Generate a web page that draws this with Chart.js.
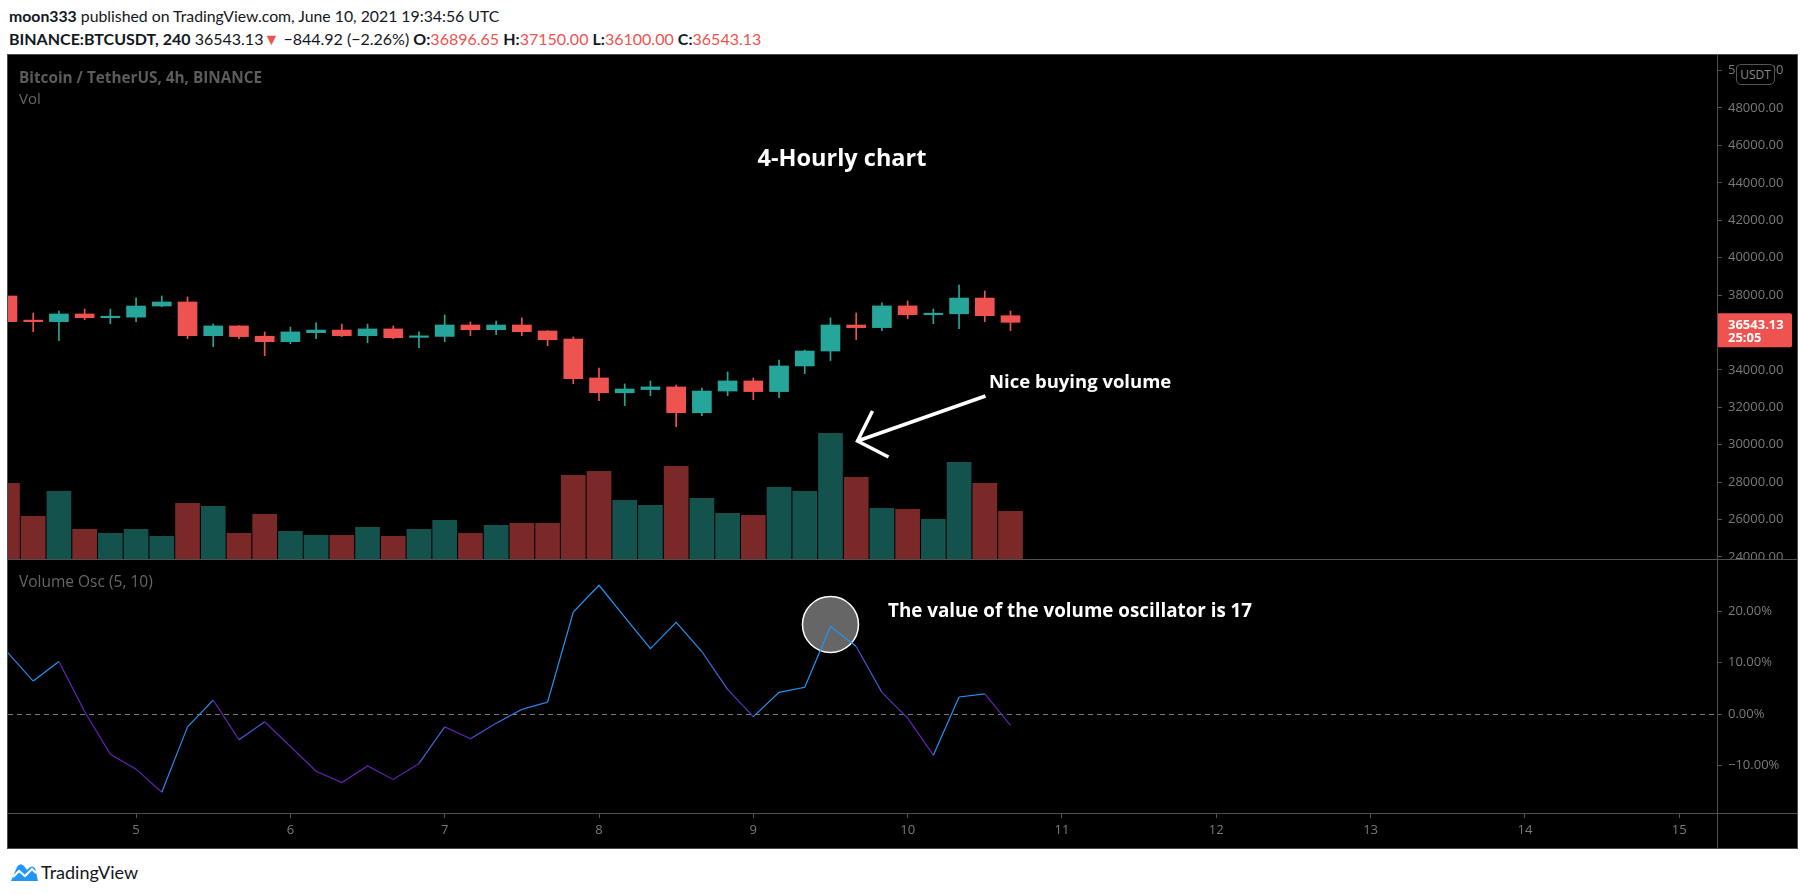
<!DOCTYPE html>
<html>
<head>
<meta charset="utf-8">
<script src="https://cdn.jsdelivr.net/npm/chart.js@4.4.1/dist/chart.umd.min.js"></script>
<style>
  body { margin: 0; background: #fff; width: 1805px; height: 895px; overflow: hidden; font-family: Lato, "Open Sans", sans-serif; }
  .hdr { position: absolute; left: 9px; font-size: 16px; line-height: 22px; color: #131722; white-space: nowrap; }
  .red { color: #ef5350; }
  #box { position: absolute; left: 7px; top: 54px; width: 1791px; height: 795px; box-sizing: border-box; border: 1px solid #4f4f4f; background: #000; }
  #box canvas { position: absolute; left: 0; }
  .sep { position: absolute; background: #4f4f4f; }
  .lbl { position: absolute; white-space: nowrap; line-height: 20px; font-family: "Open Sans", sans-serif; }
  .note { position: absolute; white-space: nowrap; color: #fff; font-weight: bold; line-height: 26px; font-family: "Open Sans", sans-serif; }
  #usdt { position: absolute; left: 1728px; top: 9px; width: 39px; height: 21px; box-sizing: border-box; border: 1px solid #555; border-radius: 5px; background: #000; color: #8a8a8a; font: 12px "Open Sans", sans-serif; line-height: 19px; text-align: center; }
  #logo { position: absolute; left: 9px; top: 860px; height: 24px; display: flex; align-items: center; font-size: 18px; color: #131722; }
</style>
</head>
<body>
<div class="hdr" style="top:5px;font-size:15.8px"><b>moon333</b> published on TradingView.com, June 10, 2021 19:34:56 UTC</div>
<div class="hdr" style="top:28px"><b>BINANCE:BTCUSDT, 240</b> 36543.13<span class="red">&#9660;</span> &minus;844.92 (&minus;2.26%) <b>O:</b><span class="red">36896.65</span> <b>H:</b><span class="red">37150.00</span> <b>L:</b><span class="red">36100.00</span> <b>C:</b><span class="red">36543.13</span></div>

<div id="box">
  <canvas id="priceChart" width="1789" height="504" style="top:0"></canvas>
  <canvas id="oscChart" width="1789" height="289" style="top:504px"></canvas>
  <div class="sep" style="left:0;top:504px;width:1789px;height:1px"></div>
  <div class="sep" style="left:0;top:758px;width:1789px;height:1px"></div>
  <div class="sep" style="left:1709px;top:0;width:1px;height:793px"></div>
  <div class="lbl" style="left:11px;top:12px;color:#5c5c5c;font-weight:bold;font-size:15.3px">Bitcoin / TetherUS, 4h, BINANCE</div>
  <div class="lbl" style="left:11px;top:33px;color:#666;font-size:15px">Vol</div>
  <div class="lbl" style="left:11px;top:516px;color:#666;font-size:15.5px">Volume Osc (5, 10)</div>
  <div class="note" style="left:834px;top:89px;font-size:23.5px;transform:translateX(-50%)">4-Hourly chart</div>
  <div class="note" style="left:981px;top:313px;font-size:18.5px">Nice buying volume</div>
  <div class="note" style="left:880px;top:542px;font-size:18.8px">The value of the volume oscillator is 17</div>
  <div id="usdt">USDT</div>
</div>

<div id="logo">
  <svg width="30" height="22" viewBox="0 0 30 22">
    <path d="M2 20 L8 6 Q11 1 15 5 L18 9 Q22 3 26 7 L29 20 Z" fill="#2196f3"/>
    <polyline points="4,16 10,10 16,15 23,8 27,12" fill="none" stroke="#fff" stroke-width="2.2"/>
  </svg>
  <span style="margin-left:2px">TradingView</span>
</div>

<script>
// 4h bars, BINANCE:BTCUSDT, June 2021
const barTimes = [
  '06-04 04:00', '06-04 08:00', '06-04 12:00', '06-04 16:00', '06-04 20:00',
  '06-05 00:00', '06-05 04:00', '06-05 08:00', '06-05 12:00', '06-05 16:00', '06-05 20:00',
  '06-06 00:00', '06-06 04:00', '06-06 08:00', '06-06 12:00', '06-06 16:00', '06-06 20:00',
  '06-07 00:00', '06-07 04:00', '06-07 08:00', '06-07 12:00', '06-07 16:00', '06-07 20:00',
  '06-08 00:00', '06-08 04:00', '06-08 08:00', '06-08 12:00', '06-08 16:00', '06-08 20:00',
  '06-09 00:00', '06-09 04:00', '06-09 08:00', '06-09 12:00', '06-09 16:00', '06-09 20:00',
  '06-10 00:00', '06-10 04:00', '06-10 08:00', '06-10 12:00', '06-10 16:00'
];

const openP = [37950, 36620, 36580, 36990, 36790,
  36820, 37415, 37630, 35830, 36350, 35800,
  35510, 35990, 36130, 35830, 36190, 35740,
  35790, 36400, 36150, 36400, 36080, 35650,
  33570, 32780, 32950, 33090, 31710, 32870,
  33410, 32840, 34210, 35010, 36400, 36260,
  37420, 36950, 37000, 37840, 36896.65];
const highP = [37960, 37040, 37150, 37255, 37250,
  37850, 37950, 37900, 36450, 36370, 36030,
  36290, 36510, 36450, 36450, 36350, 36030,
  36940, 36560, 36615, 36780, 36100, 35760,
  34100, 33250, 33410, 33190, 33030, 33890,
  33570, 34530, 35060, 36780, 37040, 37580,
  37680, 37260, 38540, 38220, 37150];
const lowP = [36560, 36040, 35560, 36680, 36470,
  36580, 37380, 35670, 35240, 35670, 34760,
  35400, 35670, 35780, 35450, 35670, 35190,
  35510, 35830, 35880, 35830, 35290, 33260,
  32350, 32090, 32620, 30960, 31550, 32620,
  32410, 32510, 33800, 34500, 35620, 36100,
  36740, 36470, 36200, 36580, 36100];
const closeP = [36580, 36580, 36990, 36790, 36820,
  37415, 37630, 35830, 36350, 35780, 35510,
  36030, 36130, 35830, 36190, 35720, 35790,
  36400, 36150, 36400, 36040, 35610, 33530,
  32780, 32980, 33090, 31710, 32870, 33410,
  32840, 34210, 35010, 36400, 36260, 37420,
  36950, 37000, 37840, 36900, 36543.13];
const volume = [15200, 8600, 13600, 6000, 5200,
  6000, 4600, 11200, 10600, 5200, 9000,
  5600, 4800, 4800, 6400, 4600, 6000,
  7800, 5200, 6800, 7200, 7200, 16800,
  17600, 11800, 10800, 18600, 12200, 9200,
  8800, 14400, 13600, 25200, 16400, 10200,
  10000, 8000, 19400, 15200, 9600];
// Volume Osc (5, 10), percent
const volOsc = [12.0, 6.4, 10.2, 0.5, -7.8,
  -10.7, -15.2, -2.5, 2.7, -5.0, -1.5,
  -6.3, -11.1, -13.3, -10.1, -12.7, -9.6,
  -2.5, -4.8, -1.8, 0.9, 2.3, 19.8,
  25.0, 18.8, 12.7, 17.8, 12.1, 4.8,
  -0.5, 4.2, 5.2, 17.0, 13.1, 4.2,
  -0.8, -8.0, 3.3, 3.9, -2.2];

const priceTicks = [24000, 26000, 28000, 30000, 32000, 34000, 36000, 38000, 40000, 42000, 44000, 46000, 48000, 50000];
const oscTicks = [-10, 0, 10, 20];
const dayLabels = ['5', '6', '7', '8', '9', '10', '11', '12', '13', '14', '15'];

const UP = '#26a69a', DOWN = '#ef5350';
const UP_VOL = '#14524d', DOWN_VOL = '#7a2828';

// bar index: one unit = 4 hours, 0 = June 5 00:00
const xs = barTimes.map(t => (parseInt(t.slice(3, 5)) - 5) * 6 + parseInt(t.slice(6, 8)) / 4);
const dayTickVals = dayLabels.map(d => (parseInt(d) - 5) * 6);
const isUp = closeP.map((c, i) => c >= openP[i]);
const candleColors = isUp.map(u => u ? UP : DOWN);
const volColors = isUp.map(u => u ? UP_VOL : DOWN_VOL);

const X_MIN = -4.98, X_MAX = 61.47;
const AXIS_FONT = { family: 'Open Sans', size: 13 };
const AXIS_COLOR = '#7a7a7a';

Chart.defaults.font.family = 'Open Sans';

// keep the pane edges where they are, labels may overhang
function fixSide(s) {
  s.width = 80;
  s.paddingTop = 0;
  s.paddingBottom = 0;
}
function fixBottom(s) {
  s.height = 35;
  s.paddingLeft = 0;
  s.paddingRight = 0;
}

const lastPricePlugin = {
  id: 'lastPrice',
  afterDraw(chart) {
    const { ctx, chartArea, scales } = chart;
    const y = scales.y.getPixelForValue(closeP[closeP.length - 1]);
    ctx.save();
    ctx.fillStyle = DOWN;
    ctx.beginPath();
    ctx.roundRect(chartArea.right, y - 9, 75, 34, 2);
    ctx.fill();
    ctx.fillStyle = '#fff';
    ctx.font = 'bold 13px "Open Sans"';
    ctx.textBaseline = 'middle';
    ctx.fillText(closeP[closeP.length - 1].toFixed(2), chartArea.right + 11, y + 3);
    ctx.fillText('25:05', chartArea.right + 11, y + 16);
    ctx.restore();
  }
};

const arrowPlugin = {
  id: 'arrow',
  afterDatasetsDraw(chart) {
    const { ctx, scales } = chart;
    const k = 32; // the bar the note points at
    const tx = scales.x.getPixelForValue(xs[k]) + 27;
    const ty = scales.yVol.getPixelForValue(volume[k]) + 8;
    ctx.save();
    ctx.strokeStyle = '#fff';
    ctx.lineWidth = 3.5;
    ctx.beginPath();
    ctx.moveTo(tx + 128, ty - 45);
    ctx.lineTo(tx, ty);
    ctx.moveTo(tx + 15, ty - 30);
    ctx.lineTo(tx, ty);
    ctx.lineTo(tx + 31, ty + 16);
    ctx.stroke();
    ctx.restore();
  }
};

new Chart(document.getElementById('priceChart'), {
  type: 'bar',
  data: {
    datasets: [
      {
        label: 'Volume',
        data: xs.map((x, i) => ({ x, y: volume[i] })),
        yAxisID: 'yVol',
        backgroundColor: volColors,
        categoryPercentage: 1,
        barPercentage: 0.96,
        grouped: false,
        order: 3
      },
      {
        label: 'Wick',
        data: xs.map((x, i) => ({ x, y: [lowP[i], highP[i]] })),
        yAxisID: 'y',
        backgroundColor: candleColors,
        barThickness: 1,
        grouped: false,
        order: 2
      },
      {
        label: 'Body',
        data: xs.map((x, i) => ({ x, y: [openP[i], closeP[i]] })),
        yAxisID: 'y',
        backgroundColor: candleColors,
        barThickness: 19,
        minBarLength: 1.5,
        grouped: false,
        order: 1
      }
    ]
  },
  options: {
    responsive: false,
    animation: false,
    layout: { padding: 0 },
    plugins: { legend: { display: false }, tooltip: { enabled: false } },
    scales: {
      x: { type: 'linear', min: X_MIN, max: X_MAX, offset: false, display: false },
      y: {
        position: 'right',
        min: 23893,
        max: 50831,
        afterFit: fixSide,
        afterBuildTicks: s => { s.ticks = priceTicks.map(v => ({ value: v })); },
        grid: { drawOnChartArea: false, drawTicks: true, tickLength: 5, color: '#555' },
        border: { display: false },
        ticks: { autoSkip: false, padding: 6, color: AXIS_COLOR, font: AXIS_FONT, callback: v => v.toFixed(2) }
      },
      yVol: { display: false, min: 0, max: 100800 }
    }
  },
  plugins: [arrowPlugin, lastPricePlugin]
});

// osc line colour: blue when rising / above zero, purple when sinking below
const BLUE = [33, 150, 243], PURPLE = [103, 33, 180];
function segColor(c) {
  const a = c.p0.parsed.y, b = c.p1.parsed.y;
  let t = ((a + b) / 2 + (b - a) + 5) / 10;
  t = Math.max(0, Math.min(1, t));
  const m = BLUE.map((v, i) => Math.round(PURPLE[i] + (v - PURPLE[i]) * t));
  return `rgb(${m[0]},${m[1]},${m[2]})`;
}

const oscMarksPlugin = {
  id: 'oscMarks',
  beforeDatasetsDraw(chart) {
    const { ctx, chartArea, scales } = chart;
    const y0 = scales.y.getPixelForValue(0);
    ctx.save();
    ctx.strokeStyle = '#7a7a7a';
    ctx.lineWidth = 1;
    ctx.setLineDash([5, 4]);
    ctx.beginPath();
    ctx.moveTo(chartArea.left, Math.round(y0) + 0.5);
    ctx.lineTo(chartArea.right, Math.round(y0) + 0.5);
    ctx.stroke();
    ctx.setLineDash([]);
    // highlight of the 17 reading
    const k = 32;
    const cx = scales.x.getPixelForValue(xs[k]);
    const cy = scales.y.getPixelForValue(volOsc[k]);
    ctx.beginPath();
    ctx.arc(cx, cy - 2, 28, 0, Math.PI * 2);
    ctx.fillStyle = '#666';
    ctx.fill();
    ctx.strokeStyle = '#fff';
    ctx.lineWidth = 1.5;
    ctx.stroke();
    ctx.restore();
  }
};

new Chart(document.getElementById('oscChart'), {
  type: 'line',
  data: {
    datasets: [{
      label: 'Volume Osc',
      data: xs.map((x, i) => ({ x, y: volOsc[i] })),
      borderColor: '#2f6fe0',
      borderWidth: 1.2,
      pointRadius: 0,
      tension: 0,
      segment: { borderColor: segColor }
    }]
  },
  options: {
    responsive: false,
    animation: false,
    layout: { padding: 0 },
    plugins: { legend: { display: false }, tooltip: { enabled: false } },
    scales: {
      x: {
        type: 'linear',
        min: X_MIN,
        max: X_MAX,
        afterFit: fixBottom,
        afterBuildTicks: s => { s.ticks = dayTickVals.map(v => ({ value: v })); },
        grid: { drawOnChartArea: false, drawTicks: true, tickLength: 5, color: '#555' },
        border: { display: false },
        ticks: {
          autoSkip: false, maxRotation: 0, padding: 4, color: AXIS_COLOR, font: AXIS_FONT,
          callback: v => dayLabels[dayTickVals.indexOf(v)]
        }
      },
      y: {
        position: 'right',
        min: -19.22,
        max: 30.10,
        afterFit: fixSide,
        afterBuildTicks: s => { s.ticks = oscTicks.map(v => ({ value: v })); },
        grid: { drawOnChartArea: false, drawTicks: true, tickLength: 5, color: '#555' },
        border: { display: false },
        ticks: {
          autoSkip: false, padding: 6, color: AXIS_COLOR, font: AXIS_FONT,
          callback: v => (v < 0 ? '\u2212' + Math.abs(v).toFixed(2) : v.toFixed(2)) + '%'
        }
      }
    }
  },
  plugins: [oscMarksPlugin]
});
</script>
</body>
</html>
